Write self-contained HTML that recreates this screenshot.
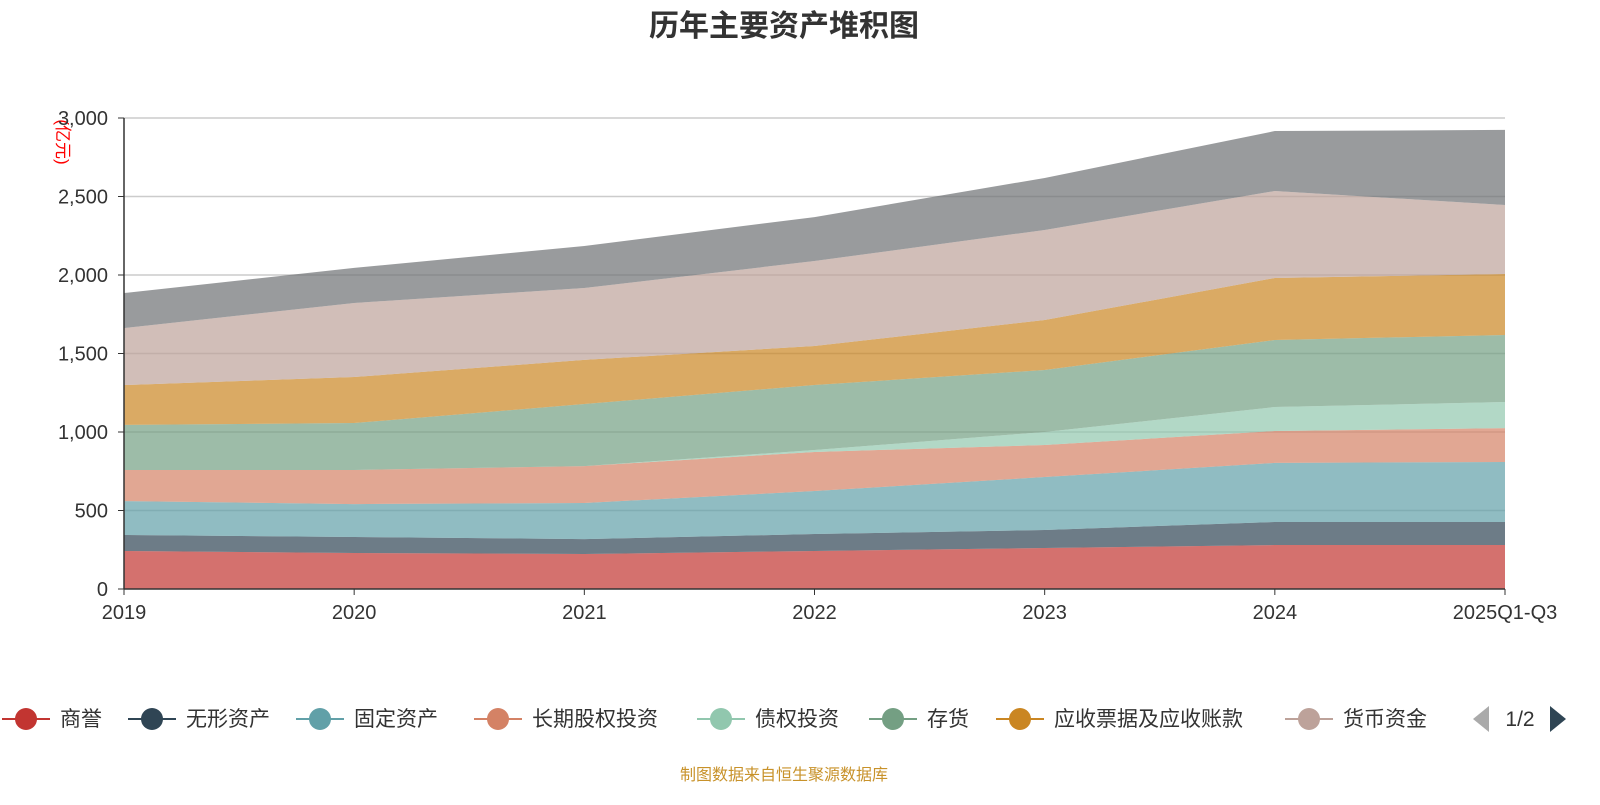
<!DOCTYPE html>
<html><head><meta charset="utf-8"><style>
body{margin:0;background:#fff;font-family:"Liberation Sans","Noto Sans CJK SC",sans-serif}
svg text{font-family:"Liberation Sans","Noto Sans CJK SC",sans-serif}
</style></head><body>
<svg id="chart" width="1600" height="800">
<text x="784" y="36" text-anchor="middle" font-size="30" font-weight="bold" fill="#333">历年主要资产堆积图</text>
<text transform="translate(57,142) rotate(90)" text-anchor="middle" font-size="17" fill="#ff0000">(亿元)</text>
<g id="grid"></g><g id="areas"></g><g id="axes"></g><g id="legend"></g>
<text x="784" y="780" text-anchor="middle" font-size="16" fill="#c8922a">制图数据来自恒生聚源数据库</text>
</svg>
<script>
const categories=["2019","2020","2021","2022","2023","2024","2025Q1-Q3"];
const seriesNames=["商誉","无形资产","固定资产","长期股权投资","债权投资","存货","应收票据及应收账款","货币资金","交易性金融资产"];
const sGoodwill=[242,229,223,242,261,280,280];
const sIntangible=[102,102,95,108,115,147,147];
const sFixed=[216,210,230,274,337,376,382];
const sEquity=[198,217,235,249,204,203,216];
const sDebt=[0,0,0,12,83,153,166];
const sInventory=[287,299,395,414,395,427,427];
const sReceivable=[254,293,281,249,318,395,388];
const sCash=[363,472,458,541,574,554,440];
const sOther=[223,223,268,280,331,382,478];
const yTicks=[0,500,1000,1500,2000,2500,3000];
const yTickLabels=["0","500","1,000","1,500","2,000","2,500","3,000"];
const colors=["#c23531","#2f4554","#61a0a8","#d48265","#91c7ae","#749f83","#ca8622","#bda29a","#6e7074"];
const series=[sGoodwill,sIntangible,sFixed,sEquity,sDebt,sInventory,sReceivable,sCash,sOther];
const NS="http://www.w3.org/2000/svg";
const X0=124,X1=1505,Y0=589,Y1=118,YMAX=3000;
const xs=i=>X0+(X1-X0)*i/(categories.length-1);
const ys=v=>Y0-(Y0-Y1)*v/YMAX;
function mk(t,a,p){const e=document.createElementNS(NS,t);for(const k in a)e.setAttribute(k,a[k]);p.appendChild(e);return e;}
const grid=document.getElementById('grid'),areas=document.getElementById('areas'),axes=document.getElementById('axes'),legend=document.getElementById('legend');
yTicks.forEach((v,i)=>{
  if(v>0){const l=mk('line',{x1:X0,x2:X1,y1:ys(v),y2:ys(v),stroke:'#ccc','stroke-width':1.5},grid);
  
  }
  const t=mk('text',{x:X0-16,y:ys(v)+7,'text-anchor':'end','font-size':20,fill:'#333'},axes);
  t.textContent=yTickLabels[i];
  
  
  mk('line',{x1:X0-6,x2:X0,y1:ys(v),y2:ys(v),stroke:'#333'},axes);
});
let base=categories.map(()=>0);
series.forEach((s,k)=>{
  const top=base.map((b,i)=>b+s[i]);
  let d='M'+top.map((v,i)=>xs(i)+','+ys(v)).join(' L');
  for(let i=categories.length-1;i>=0;i--)d+=' L'+xs(i)+','+ys(base[i]);
  const p=mk('path',{d:d+'Z',fill:colors[k],'fill-opacity':0.7},areas);
  
  
  base=top;
});
mk('line',{x1:X0,x2:X0,y1:Y1,y2:Y0,stroke:'#333','stroke-width':1.5},axes);
mk('line',{x1:X0,x2:X1,y1:Y0,y2:Y0,stroke:'#333','stroke-width':1.5},axes);
categories.forEach((c,i)=>{
  mk('line',{x1:xs(i),x2:xs(i),y1:Y0,y2:Y0+6,stroke:'#333'},axes);
  const t=mk('text',{x:xs(i),y:Y0+30,'text-anchor':'middle','font-size':20,fill:'#333'},axes);
  t.textContent=c;
  
  
});
const lx=[26,152,320,498,721,893,1020,1309];
for(let k=0;k<8;k++){
  const g=mk('g',{},legend);
  
  
  mk('line',{x1:lx[k]-24,x2:lx[k]+24,y1:719,y2:719,stroke:colors[k],'stroke-width':2},g);
  mk('circle',{cx:lx[k],cy:719,r:11,fill:colors[k]},g);
  const t=mk('text',{x:lx[k]+34,y:726,'font-size':21,fill:'#333'},g);
  t.textContent=seriesNames[k];
}
const pl=mk('path',{d:'M1473,719 L1489,706 L1489,732Z',fill:'#aaa'},legend);


const pt=mk('text',{x:1520,y:726,'text-anchor':'middle','font-size':21,fill:'#333'},legend);
pt.textContent='1/2';


const pr=mk('path',{d:'M1566,719 L1550,706 L1550,732Z',fill:'#2f4554'},legend);


</script>
</body></html>
